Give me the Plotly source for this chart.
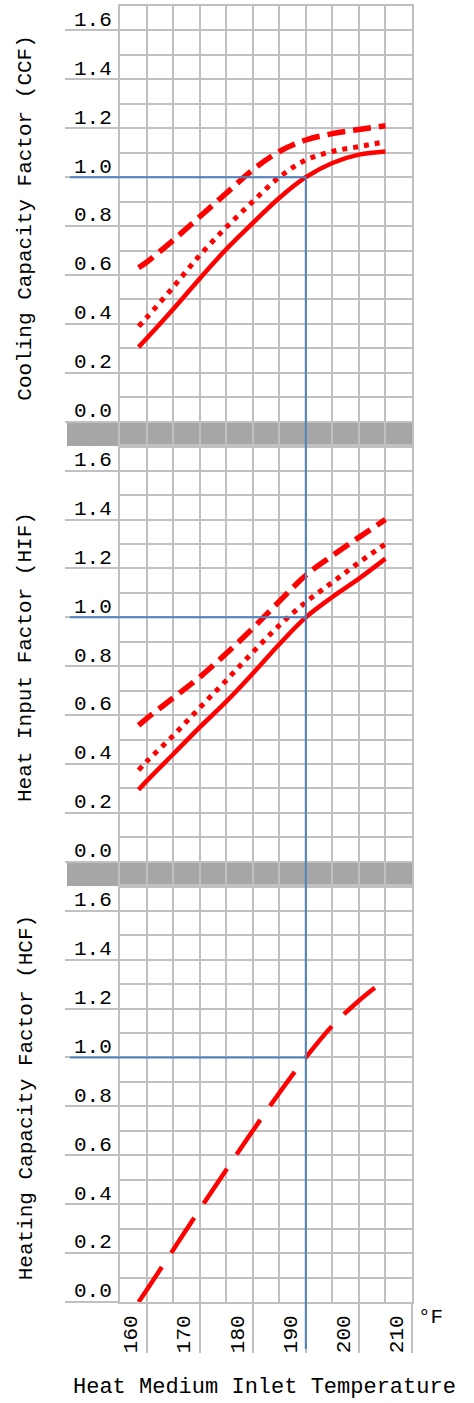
import plotly.graph_objects as go
from plotly.subplots import make_subplots

# Heat medium inlet temperature (deg F) at which the curves are sampled
temp_f = [158.5, 160, 165, 170, 175, 180, 185, 190, 195, 200, 205]

# Cooling capacity factor
ccf_solid = [0.305, 0.34, 0.46, 0.585, 0.705, 0.812, 0.915, 1.0, 1.058, 1.092, 1.105]
ccf_dotted = [0.39, 0.425, 0.55, 0.68, 0.795, 0.90, 1.0, 1.07, 1.105, 1.125, 1.145]
ccf_dashed = [0.63, 0.652, 0.742, 0.838, 0.934, 1.03, 1.105, 1.152, 1.178, 1.195, 1.21]

# Heat input factor
hif_solid = [0.295, 0.33, 0.44, 0.55, 0.655, 0.77, 0.89, 1.0, 1.083, 1.158, 1.24]
hif_dotted = [0.375, 0.41, 0.516, 0.63, 0.742, 0.857, 0.967, 1.062, 1.143, 1.224, 1.30]
hif_dashed = [0.558, 0.586, 0.67, 0.755, 0.852, 0.955, 1.065, 1.172, 1.252, 1.327, 1.40]

# Heating capacity factor
hcf_temp_f = [158.5, 160, 165, 170, 175, 180, 185, 190, 195, 200, 203]
hcf_values = [0.0, 0.048, 0.213, 0.378, 0.54, 0.70, 0.855, 1.0, 1.13, 1.232, 1.285]

# Rated point
rated_temp_f = 190
rated_factor = 1.0

# Axis ticks and titles
x_tick_vals = [160, 170, 180, 190, 200, 210]
x_tick_text = ["160", "170", "180", "190", "200", "210"]
y_tick_vals = [0.0, 0.2, 0.4, 0.6, 0.8, 1.0, 1.2, 1.4, 1.6]
y_tick_text = ["0.0", "0.2", "0.4", "0.6", "0.8", "1.0", "1.2", "1.4", "1.6"]
panel_titles = ["Cooling Capacity Factor (CCF)",
                "Heat Input Factor (HIF)",
                "Heating Capacity Factor (HCF)"]
x_title = "Heat Medium Inlet Temperature"
x_unit = "°F"

FONT = "Liberation Mono"
GRID = "#c0c0c0"
BAND = "#a6a6a6"
RED = "#ff0000"
BLUE = "#4f81bd"

W, H = 474, 1403
ML, MR, MT, MB = 120, 62, 4, 101
PW, PH = W - ML - MR, H - MT - MB

X_RANGE = [155, 210]
Y_RANGES = [[-0.1, 1.7], [-0.1, 1.7], [0.0, 1.7]]
spans = [r[1] - r[0] for r in Y_RANGES]
total = sum(spans)
domains = []
top = 1.0
for s in spans:
    lo = max(0.0, round(top - s / total, 6))
    domains.append([lo, round(top, 6)])
    top = lo


def px_to_paper_x(px):
    return (px - ML) / PW


def px_to_paper_y(py):
    return (H - MB - py) / PH


def data_to_paper_y(row, v):
    lo, hi = Y_RANGES[row]
    d0, d1 = domains[row]
    return d0 + (v - lo) / (hi - lo) * (d1 - d0)


def data_to_paper_x(t):
    return (t - X_RANGE[0]) / (X_RANGE[1] - X_RANGE[0])


fig = make_subplots(rows=3, cols=1, shared_xaxes=True, vertical_spacing=0)

dash_std = "18px,8px"
dash_dot = "5px,6px"
dash_long = "42px,17px"

series = [
    (1, temp_f, ccf_solid, "solid", 4.5),
    (1, temp_f, ccf_dotted, dash_dot, 5),
    (1, temp_f, ccf_dashed, dash_std, 5.5),
    (2, temp_f, hif_solid, "solid", 4.5),
    (2, temp_f, hif_dotted, dash_dot, 5),
    (2, temp_f, hif_dashed, dash_std, 5.5),
    (3, hcf_temp_f, hcf_values, dash_long, 4.5),
]
for row, xs, ys, dash, width in series:
    fig.add_trace(
        go.Scatter(x=xs, y=ys, mode="lines",
                   line=dict(color=RED, width=width, dash=dash, shape="spline", smoothing=1.0),
                   showlegend=False, hoverinfo="x+y"),
        row=row, col=1)

for i in range(3):
    ax = "yaxis" if i == 0 else f"yaxis{i + 1}"
    fig.layout[ax].update(
        domain=domains[i], range=Y_RANGES[i],
        tickmode="array", tickvals=y_tick_vals, ticktext=y_tick_text,
        ticks="outside", ticklen=53, tickwidth=2, tickcolor=GRID,
        ticklabelstandoff=-51, ticklabelshift=-12,
        tickfont=dict(family=FONT, size=21, color="#000"),
        showgrid=True, gridcolor=GRID, gridwidth=2, zeroline=False,
        minor=dict(dtick=0.1, tick0=0, showgrid=True, gridcolor=GRID, gridwidth=2, ticks=""),
        showline=True, linecolor=GRID, linewidth=2, mirror=True,
        fixedrange=True)
    xax = "xaxis" if i == 0 else f"xaxis{i + 1}"
    fig.layout[xax].update(
        range=X_RANGE, showgrid=True, gridcolor=GRID, gridwidth=2, zeroline=False,
        tickmode="array", tickvals=x_tick_vals, ticktext=x_tick_text,
        minor=dict(dtick=5, tick0=155, showgrid=True, gridcolor=GRID, gridwidth=2, ticks=""),
        showline=True, linecolor=GRID, linewidth=2, mirror=True,
        fixedrange=True)

fig.layout.xaxis3.update(
    ticks="outside", ticklen=49, tickwidth=2, tickcolor=GRID,
    showticklabels=True, tickangle=-90,
    ticklabelstandoff=-46, ticklabelshift=-16,
    tickfont=dict(family=FONT, size=21, color="#000"))
fig.layout.xaxis.update(ticks="", showticklabels=False)
fig.layout.xaxis2.update(ticks="", showticklabels=False)

shapes = []
# Gray separator bands below the upper two panels
for i, yref in enumerate(["y", "y2"]):
    shapes.append(dict(type="rect", xref="paper", yref=yref,
                       x0=px_to_paper_x(67), x1=1, y0=Y_RANGES[i][0], y1=0,
                       fillcolor=BAND, line=dict(width=0), layer="below"))
# Rated-point guide lines
for i, yref in enumerate(["y", "y2", "y3"]):
    shapes.append(dict(type="line", xref="paper", yref=yref,
                       x0=px_to_paper_x(70), x1=data_to_paper_x(rated_temp_f),
                       y0=rated_factor, y1=rated_factor,
                       line=dict(color=BLUE, width=2), layer="above"))
shapes.append(dict(type="line", xref="x3", yref="paper",
                   x0=rated_temp_f, x1=rated_temp_f,
                   y0=data_to_paper_y(0, rated_factor), y1=px_to_paper_y(1349),
                   line=dict(color=BLUE, width=2), layer="above"))

annotations = []
title_centers = [217, 656, 1098]
for text, cy in zip(panel_titles, title_centers):
    annotations.append(dict(text=text, xref="paper", yref="paper",
                            x=px_to_paper_x(26), y=px_to_paper_y(cy),
                            xanchor="center", yanchor="middle", textangle=-90,
                            showarrow=False, font=dict(family=FONT, size=21, color="#000")))
annotations.append(dict(text=x_title, xref="paper", yref="paper",
                        x=px_to_paper_x(264), y=px_to_paper_y(1388),
                        xanchor="center", yanchor="middle", showarrow=False,
                        font=dict(family=FONT, size=22, color="#000")))
annotations.append(dict(text=x_unit, xref="paper", yref="paper",
                        x=px_to_paper_x(416), y=px_to_paper_y(1318),
                        xanchor="left", yanchor="middle", showarrow=False,
                        font=dict(family=FONT, size=21, color="#000")))

fig.update_layout(
    width=W, height=H,
    margin=dict(l=ML, r=MR, t=MT, b=MB),
    paper_bgcolor="white", plot_bgcolor="white",
    shapes=shapes, annotations=annotations,
    showlegend=False,
)

fig.write_html("out.html", config={"displayModeBar": False})
